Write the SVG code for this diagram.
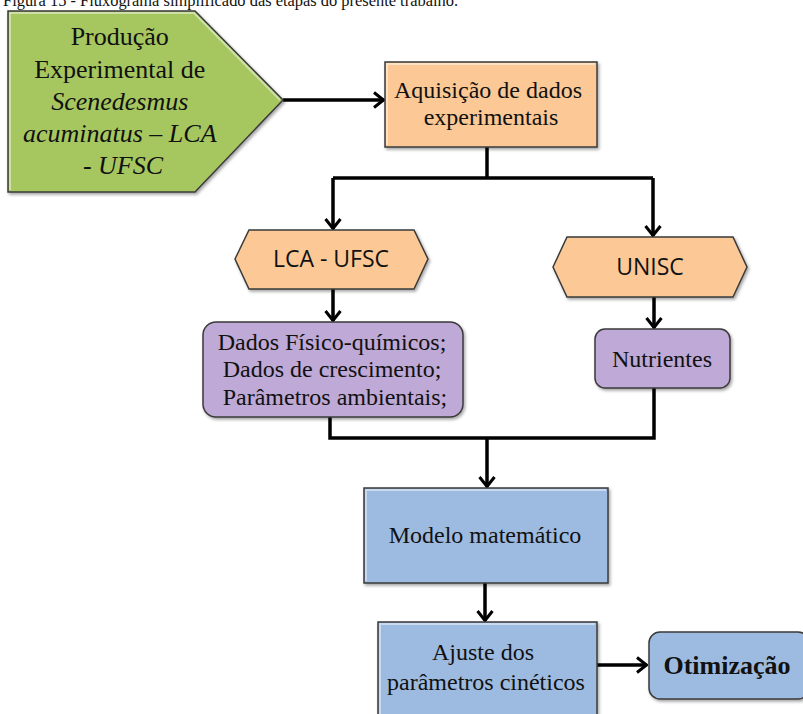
<svg xmlns="http://www.w3.org/2000/svg" width="803" height="714" viewBox="0 0 803 714">
<defs>
<style>
.serif{font-family:"Liberation Serif","Times New Roman",serif;fill:#111;}
.sans{font-family:"Open Sans","Noto Sans","Liberation Sans",sans-serif;fill:#111;}
.node{stroke:#3a3a3a;stroke-width:1.5;filter:url(#sh);}
.green{fill:#A6C760;}
.orange{fill:#FBC896;}
.purple{fill:#BFA9D6;}
.blue{fill:#9DBBE0;}
.conn{fill:none;stroke:#000;stroke-width:3.5;}
.hl{fill:none;stroke:#fff;stroke-opacity:0.45;stroke-width:2;}
</style>
<filter id="sh" x="-10%" y="-10%" width="120%" height="125%">
<feDropShadow dx="1.5" dy="2" stdDeviation="1.5" flood-color="#000" flood-opacity="0.35"/>
</filter>
<marker id="ah" markerUnits="userSpaceOnUse" viewBox="0 0 12 18" markerWidth="12" markerHeight="18" refX="11" refY="9" orient="auto">
<path d="M1,1.5 L10.5,9 L1,16.5" fill="none" stroke="#000" stroke-width="3"/>
</marker>
</defs>
<rect width="803" height="714" fill="#fff"/>
<text class="serif" x="3" y="6" font-size="17" textLength="455" lengthAdjust="spacingAndGlyphs">Figura 15 - Fluxograma simplificado das etapas do presente trabalho.</text>

<g id="connectors">
<line class="conn" x1="283" y1="100" x2="384" y2="100" marker-end="url(#ah)"/>
<polyline class="conn" points="487,147 487,178"/>
<polyline class="conn" points="333,178 653,178"/>
<line class="conn" x1="333" y1="178" x2="333" y2="229" marker-end="url(#ah)"/>
<line class="conn" x1="653" y1="178" x2="653" y2="236" marker-end="url(#ah)"/>
<line class="conn" x1="333" y1="289" x2="333" y2="321" marker-end="url(#ah)"/>
<line class="conn" x1="654" y1="297" x2="654" y2="328" marker-end="url(#ah)"/>
<polyline class="conn" points="330,417 330,438 654,438 654,388"/>
<line class="conn" x1="487" y1="438" x2="487" y2="487" marker-end="url(#ah)"/>
<line class="conn" x1="485" y1="583" x2="485" y2="621" marker-end="url(#ah)"/>
<line class="conn" x1="597" y1="665" x2="647" y2="665" marker-end="url(#ah)"/>
</g>

<g id="producao">
<polygon class="node green" points="8,11 195,11 283,100 195,192 8,192"/>
<polyline class="hl" points="10,190 10,13 194,13 280,100"/>
<text class="serif" font-size="26" text-anchor="middle">
<tspan x="123" y="45">Produção</tspan>
<tspan x="123" y="78">Experimental de</tspan>
<tspan x="123" y="110" font-style="italic">Scenedesmus</tspan>
<tspan x="123" y="142" font-style="italic">acuminatus – LCA</tspan>
<tspan x="123" y="174" font-style="italic">- UFSC</tspan>
</text>
</g>

<g id="aquisicao">
<rect class="node orange" x="385" y="62" width="212" height="85"/>
<polyline class="hl" points="387,145 387,64 595,64"/>
<text class="serif" font-size="24" text-anchor="middle">
<tspan x="491" y="98">Aquisição de dados</tspan>
<tspan x="491" y="125">experimentais</tspan>
</text>
</g>

<g id="lca">
<polygon class="node orange" points="235,259 249,230 414,230 428,259 414,289 249,289"/>
<text class="sans" x="331" y="267" font-size="23" text-anchor="middle">LCA - UFSC</text>
</g>

<g id="unisc">
<polygon class="node orange" points="553,267 567,237 733,237 747,267 733,297 567,297"/>
<text class="sans" x="650" y="275" font-size="23" text-anchor="middle">UNISC</text>
</g>

<g id="dados">
<rect class="node purple" x="203" y="322" width="260" height="95" rx="13"/>
<text class="serif" font-size="24" text-anchor="middle">
<tspan x="335" y="350">Dados Físico-químicos;</tspan>
<tspan x="335" y="377">Dados de crescimento;</tspan>
<tspan x="335" y="405">Parâmetros ambientais;</tspan>
</text>
</g>

<g id="nutrientes">
<rect class="node purple" x="595" y="329" width="135" height="59" rx="10"/>
<text class="serif" x="662" y="367" font-size="24" text-anchor="middle">Nutrientes</text>
</g>

<g id="modelo">
<rect class="node blue" x="364" y="488" width="244" height="95"/>
<polyline class="hl" points="366,581 366,490 606,490"/>
<text class="serif" x="485" y="543" font-size="24" text-anchor="middle">Modelo matemático</text>
</g>

<g id="ajuste">
<rect class="node blue" x="378" y="622" width="219" height="100"/>
<polyline class="hl" points="380,714 380,624 595,624"/>
<text class="serif" font-size="24" text-anchor="middle">
<tspan x="486" y="660">Ajuste dos</tspan>
<tspan x="486" y="690">parâmetros cinéticos</tspan>
</text>
</g>

<g id="otimizacao">
<rect class="node blue" x="649" y="632" width="160" height="67" rx="11"/>
<text class="serif" x="727" y="674" font-size="26" font-weight="bold" text-anchor="middle">Otimização</text>
</g>
</svg>
